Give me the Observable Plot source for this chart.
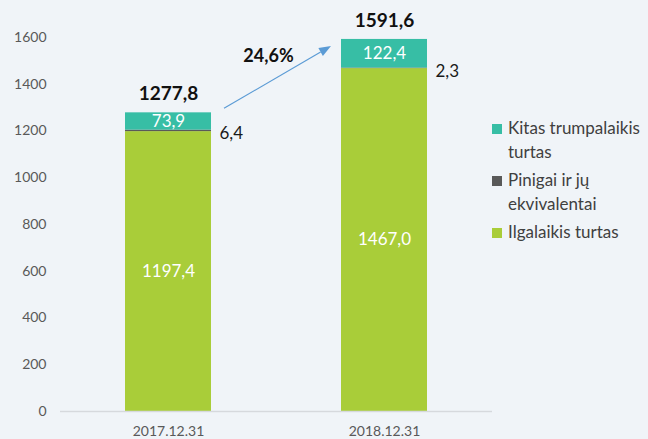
<!DOCTYPE html>
<html>
<head>
<meta charset="utf-8">
<script src="https://cdn.jsdelivr.net/npm/d3@7"></script>
<script src="https://cdn.jsdelivr.net/npm/@observablehq/plot@0.6"></script>
<style>
  html, body { margin: 0; padding: 0; background: #f0f4f8; }
  #wrap { position: relative; width: 648px; height: 439px; font-family: Lato, "Open Sans", sans-serif; overflow: hidden; }
  #wrap svg { display: block; }
  #legend { position: absolute; left: 492px; top: 116px; width: 156px; font-size: 17px; color: #404040; }
  .item { position: relative; padding-left: 16px; line-height: 24px; margin-bottom: 4px; width: 140px; }
  .sw { position: absolute; left: 0; top: 8px; width: 10px; height: 10px; }
</style>
</head>
<body>
<div id="wrap"></div>
<script>
const categories = ["2017.12.31", "2018.12.31"];
const seriesNames = ["Ilgalaikis turtas", "Pinigai ir jų ekvivalentai", "Kitas trumpalaikis turtas"];
const ilgalaikis = [1197.4, 1467.0];
const pinigai = [6.4, 2.3];
const kitas = [73.9, 122.4];
const totals = [1277.8, 1591.6];
const yTicks = [0, 200, 400, 600, 800, 1000, 1200, 1400, 1600];
const seriesColors = ["#a9cd39", "#595959", "#37bea5"];
const legendOrder = ["Kitas trumpalaikis turtas", "Pinigai ir jų ekvivalentai", "Ilgalaikis turtas"];

const fmt = v => v.toFixed(1).replace(".", ",");
const growth = (totals[1] / totals[0] - 1) * 100;

const data = categories.flatMap((c, i) => [
  {date: c, series: seriesNames[0], value: ilgalaikis[i]},
  {date: c, series: seriesNames[1], value: pinigai[i]},
  {date: c, series: seriesNames[2], value: kitas[i]}
]);
const totalsData = categories.map((c, i) => ({date: c, total: totals[i]}));

function arrowMark(index, scales, values, dimensions, context) {
  const x = scales.x, y = scales.y;
  const bw = typeof x.bandwidth === "function" ? x.bandwidth() : scales.scales.x.bandwidth;
  const sx = x(categories[0]) + bw + 13, sy = y(totals[0]) - 4;
  const tx = x(categories[1]) - 10, ty = y(totals[1]) + 7;
  const ang = Math.atan2(ty - sy, tx - sx);
  const hl = 12, hw = 4.5;
  const bx = tx - hl * Math.cos(ang), by = ty - hl * Math.sin(ang);
  const g = d3.create("svg:g");
  g.append("line")
    .attr("x1", sx).attr("y1", sy).attr("x2", bx).attr("y2", by)
    .attr("stroke", "#5b9bd5").attr("stroke-width", 1.2);
  g.append("path")
    .attr("d", `M${tx},${ty}L${bx + hw * Math.sin(ang)},${by - hw * Math.cos(ang)}L${bx - hw * Math.sin(ang)},${by + hw * Math.cos(ang)}Z`)
    .attr("fill", "#5b9bd5");
  g.append("text")
    .attr("x", (sx + tx) / 2 - 9).attr("y", (sy + ty) / 2 - 21)
    .attr("dy", "0.35em")
    .attr("text-anchor", "middle")
    .attr("font-size", 18).attr("font-weight", "bold").attr("fill", "#111")
    .text(fmt(growth) + "%");
  return g.node();
}

const chart = Plot.plot({
  width: 648,
  height: 439,
  marginLeft: 60,
  marginRight: 156,
  marginTop: 37,
  marginBottom: 28,
  style: {background: "transparent", fontFamily: "Lato, 'Open Sans', sans-serif", fontSize: "14px", color: "#595959", overflow: "visible"},
  x: {domain: categories, paddingInner: 0.6, paddingOuter: 0.3, label: null, tickSize: 0, tickPadding: 15},
  y: {domain: [0, 1600], ticks: yTicks, tickFormat: d => String(d), label: null, tickSize: 0, tickPadding: 14},
  color: {domain: seriesNames, range: seriesColors},
  marks: [
    Plot.barY(data, {x: "date", y: "value", fill: "series"}),
    Plot.ruleY([0], {stroke: "#d6d9dd", strokeWidth: 1.5}),
    Plot.text(data, Plot.stackY({
      x: "date", y: "value", z: "series",
      text: d => d.series === seriesNames[1] ? null : fmt(d.value),
      fill: "white", fontSize: 17
    })),
    Plot.text(data, Plot.stackY({
      x: "date", y: "value", z: "series",
      text: d => d.series === seriesNames[1] ? fmt(d.value) : null,
      fill: "#1a1a1a", fontSize: 17, textAnchor: "start", dx: 51, dy: 3
    })),
    Plot.text(totalsData, {
      x: "date", y: "total", text: d => fmt(d.total),
      dy: -19, fontSize: 19, fontWeight: "bold", fill: "#111"
    }),
    arrowMark
  ]
});

const wrap = document.getElementById("wrap");
wrap.appendChild(chart);

const legend = document.createElement("div");
legend.id = "legend";
legendOrder.forEach(name => {
  const item = document.createElement("div");
  item.className = "item";
  const sw = document.createElement("span");
  sw.className = "sw";
  sw.style.background = seriesColors[seriesNames.indexOf(name)];
  item.appendChild(sw);
  item.appendChild(document.createTextNode(name));
  legend.appendChild(item);
});
wrap.appendChild(legend);
</script>
</body>
</html>
